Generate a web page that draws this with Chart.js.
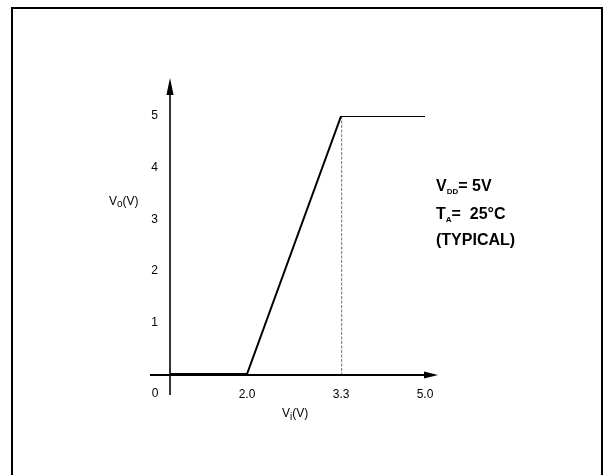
<!DOCTYPE html>
<html>
<head>
<meta charset="utf-8">
<script src="https://cdn.jsdelivr.net/npm/chart.js@4/dist/chart.umd.min.js"></script>
<style>
  html, body { margin: 0; padding: 0; background: #fff; }
  #wrap { width: 607px; height: 475px; }
</style>
</head>
<body>
<div id="wrap"><canvas id="c" width="607" height="475"></canvas></div>
<script>
// ---- data ----
const inputVoltage  = [0, 2.0, 3.3, 5.0];   // Vi (V)
const outputVoltage = [0, 0, 5, 5];         // Vo (V)
const xTickValues   = [2.0, 3.3, 5.0];
const yTickValues   = [1, 2, 3, 4, 5];
const originLabel   = '0';
const noteLines     = [
  [['V', 'b'], ['DD', 's'], ['= 5V', 'b']],
  [['T', 'b'], ['A', 's'], ['=  25°C', 'b']],
  [['(TYPICAL)', 'b']]
];

// The reference's horizontal axis is drawn "not to scale": tick values sit at
// these fractions of the axis length (piecewise-linear scale).
const xAxisBreaks = [0, 2.0, 3.3, 5.0];
const xAxisFracs  = [0, 0.302, 0.671, 1];

class PiecewiseScale extends Chart.LinearScale {
  static id = 'piecewise';
  static defaults = {};
  _warp(v) {
    const b = xAxisBreaks, f = xAxisFracs;
    if (v <= b[0]) return f[0] + (v - b[0]) * (f[1] - f[0]) / (b[1] - b[0]);
    for (let i = 1; i < b.length; i++) {
      if (v <= b[i]) return f[i-1] + (v - b[i-1]) * (f[i] - f[i-1]) / (b[i] - b[i-1]);
    }
    const n = b.length - 1;
    return f[n] + (v - b[n]) * (f[n] - f[n-1]) / (b[n] - b[n-1]);
  }
  _unwarp(d) {
    const b = xAxisBreaks, f = xAxisFracs;
    for (let i = 1; i < f.length; i++) {
      if (d <= f[i] || i === f.length - 1) return b[i-1] + (d - f[i-1]) * (b[i] - b[i-1]) / (f[i] - f[i-1]);
    }
    return b[b.length - 1];
  }
  getPixelForValue(v) {
    if (v === null || v === undefined) return NaN;
    return this.getPixelForDecimal(this._warp(v));
  }
  getValueForPixel(p) {
    return this._unwarp(this.getDecimalForPixel(p));
  }
}
Chart.register(PiecewiseScale);

const FONT = '"Liberation Sans", Arial, sans-serif';

const decor = {
  id: 'decor',
  beforeDatasetsDraw(chart) {
    const ctx = chart.ctx;
    const xs = chart.scales.x, ys = chart.scales.y;
    const x0 = xs.getPixelForValue(0), y0 = ys.getPixelForValue(0);
    ctx.save();
    // frame
    ctx.strokeStyle = '#000'; ctx.lineWidth = 2;
    ctx.strokeRect(12, 8, 590, 480);
    // dashed guide at the knee
    const kx = xs.getPixelForValue(inputVoltage[2]);
    const ky = ys.getPixelForValue(outputVoltage[2]);
    ctx.strokeStyle = '#8a8a8a'; ctx.lineWidth = 1.2; ctx.setLineDash([3, 1.5]);
    ctx.beginPath(); ctx.moveTo(kx + 0.5, ky); ctx.lineTo(kx + 0.5, y0); ctx.stroke();
    ctx.setLineDash([]);
    // axes
    ctx.strokeStyle = '#000'; ctx.fillStyle = '#000'; ctx.lineWidth = 1.6;
    ctx.beginPath(); ctx.moveTo(x0, 92); ctx.lineTo(x0, 395); ctx.stroke();
    ctx.lineWidth = 2;
    ctx.beginPath(); ctx.moveTo(150, y0 + 1); ctx.lineTo(426, y0 + 1); ctx.stroke();
    // arrow heads
    ctx.beginPath(); ctx.moveTo(x0, 78); ctx.lineTo(x0 - 3.6, 95); ctx.lineTo(x0 + 3.6, 95); ctx.closePath(); ctx.fill();
    ctx.beginPath(); ctx.moveTo(438, y0 + 1); ctx.lineTo(424, y0 - 2.5); ctx.lineTo(424, y0 + 4.5); ctx.closePath(); ctx.fill();
    ctx.restore();
  },
  afterDraw(chart) {
    const ctx = chart.ctx;
    ctx.save();
    ctx.fillStyle = '#000';
    ctx.textBaseline = 'alphabetic';
    // origin label
    ctx.font = '12px ' + FONT; ctx.textAlign = 'center';
    ctx.fillText(originLabel, 155, 397);
    // axis titles
    ctx.textAlign = 'left';
    function sub(parts, x, y, big, small, bold, dy) {
      for (const [t, k] of parts) {
        const isSub = k === 's';
        ctx.font = (bold ? 'bold ' : '') + (isSub ? small : big) + 'px ' + FONT;
        ctx.fillText(t, x, isSub ? y + dy : y);
        x += ctx.measureText(t).width;
      }
    }
    sub([['V', 'b'], ['o', 's'], ['(V)', 'b']], 109, 205, 12, 10, false, 2);
    sub([['V', 'b'], ['i', 's'], ['(V)', 'b']], 282, 417, 12, 10, false, 3);
    // note
    const ys0 = [191, 219, 245];
    noteLines.forEach((line, i) => sub(line, 436, ys0[i], 16, 8, true, 3));
    ctx.restore();
  }
};

new Chart(document.getElementById('c'), {
  type: 'line',
  data: {
    datasets: [{
      data: inputVoltage.map((x, i) => ({ x, y: outputVoltage[i] })),
      borderColor: '#000',
      borderWidth: 2,
      pointRadius: 0,
      tension: 0,
      fill: false
    }]
  },
  options: {
    responsive: false,
    animation: false,
    events: [],
    layout: { padding: { left: 130, right: 182, top: 116, bottom: 61 } },
    plugins: { legend: { display: false }, tooltip: { enabled: false }, title: { display: false } },
    scales: {
      x: {
        type: 'piecewise',
        min: 0, max: 5,
        afterBuildTicks: s => { s.ticks = xTickValues.map(v => ({ value: v })); },
        afterFit: s => { s.height = 40; },
        grid: { display: false, drawTicks: false },
        border: { display: false },
        ticks: { color: '#000', font: { family: FONT, size: 12 }, padding: 13, maxRotation: 0, autoSkip: false,
                 callback: v => Number(v).toFixed(1) }
      },
      y: {
        type: 'linear',
        min: 0, max: 5,
        afterBuildTicks: s => { s.ticks = yTickValues.map(v => ({ value: v })); },
        afterFit: s => { s.width = 40; },
        grid: { display: false, drawTicks: false },
        border: { display: false },
        ticks: { color: '#000', font: { family: FONT, size: 12 }, padding: 12,
                 callback: v => String(v) }
      }
    }
  },
  plugins: [decor]
});
</script>
</body>
</html>
